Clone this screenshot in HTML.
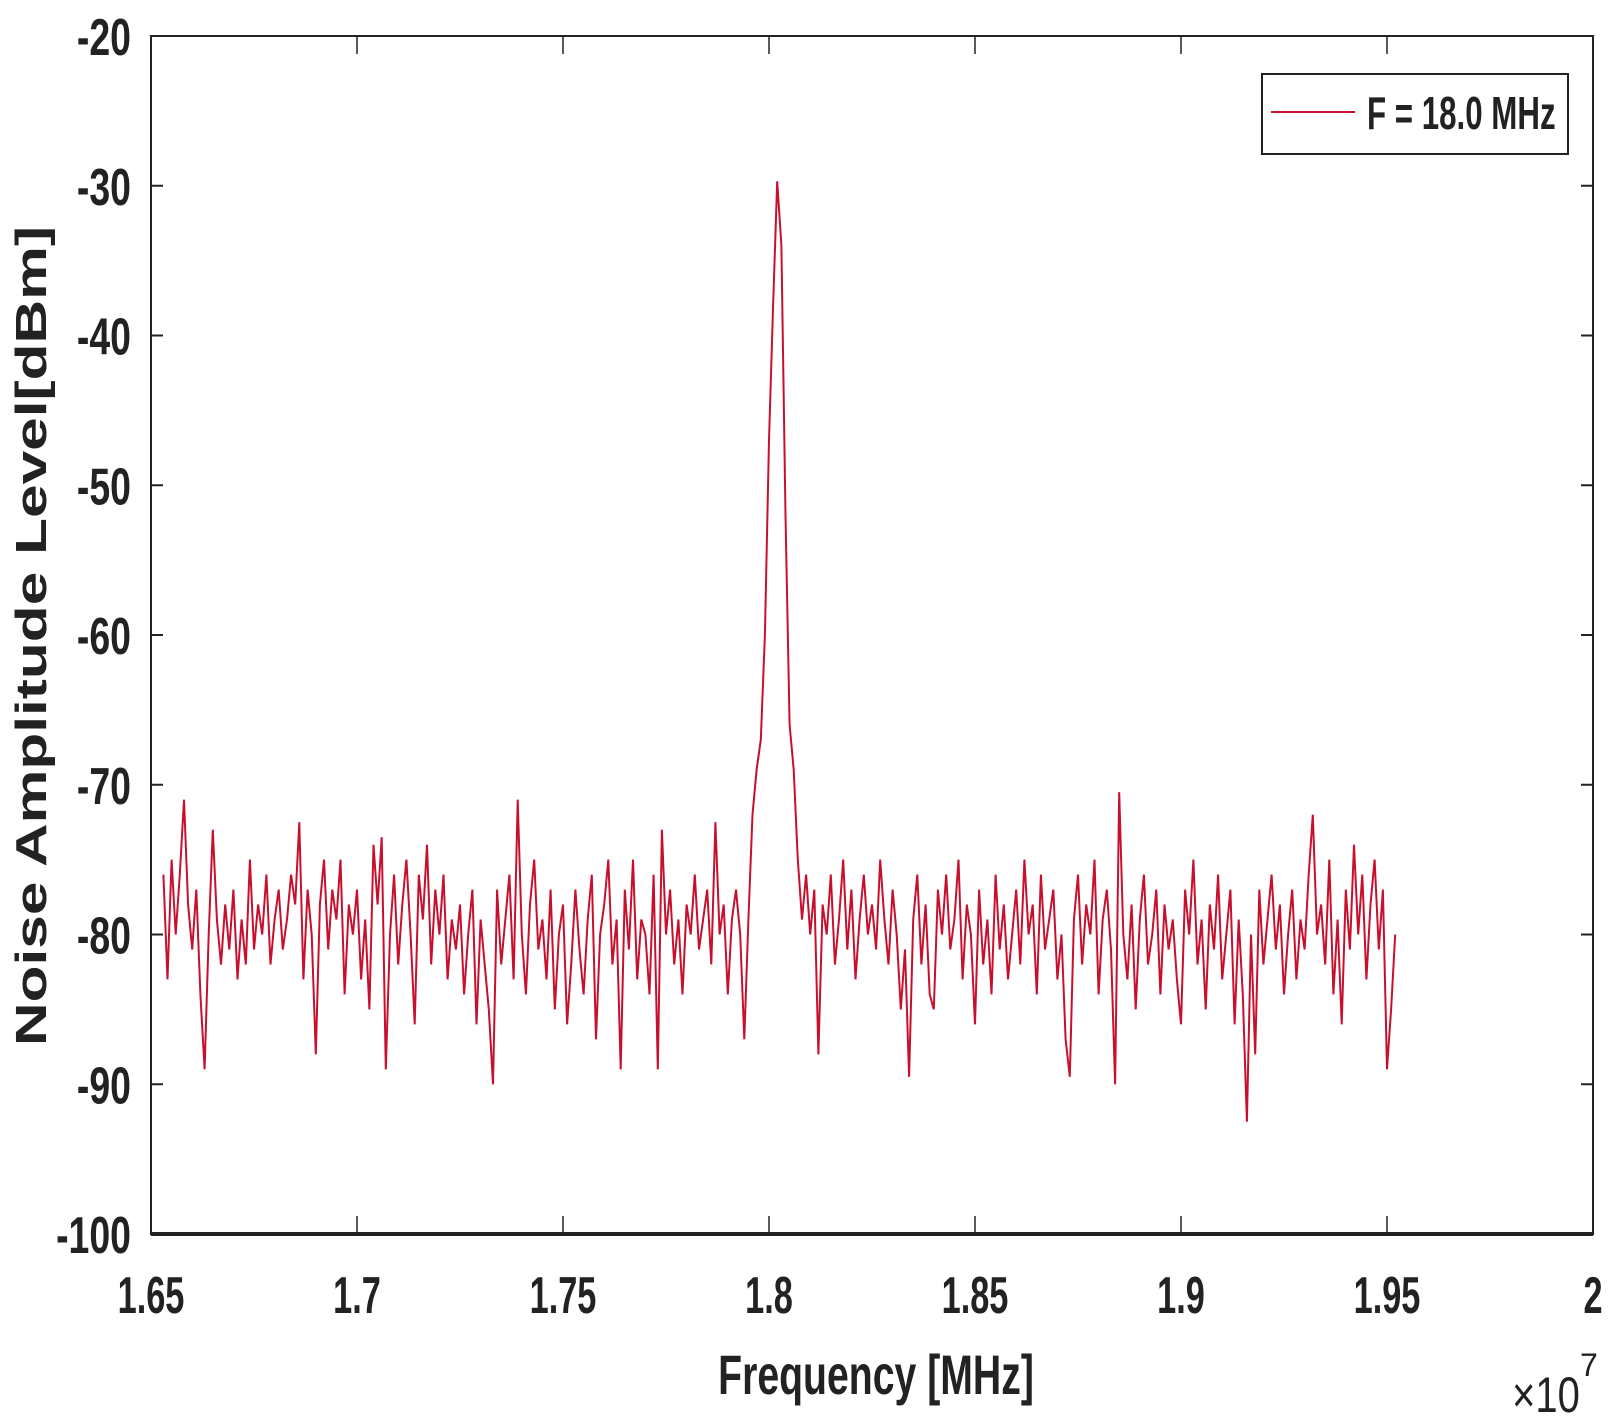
<!DOCTYPE html>
<html><head><meta charset="utf-8"><style>
html,body{margin:0;padding:0;background:#fff}
svg text{font-family:"Liberation Sans",sans-serif;fill:#222}
</style></head><body>
<svg id="chart" width="1621" height="1422" xmlns="http://www.w3.org/2000/svg">
<rect width="1621" height="1422" fill="#fff"/>
<g id="marks"></g>
<g id="axes"></g>
</svg>
<script>
const xStart = 1.653;
const xStep = 0.001;
const noiseValues = [
-76,-83,-75,-80,-76,-71,-78,-81,-77,-84,
-89,-80,-73,-79,-82,-78,-81,-77,-83,-79,
-82,-75,-81,-78,-80,-76,-82,-79,-77,-81,
-79,-76,-78,-72.5,-83,-77,-80,-88,-78,-75,
-81,-77,-79,-75,-84,-78,-80,-77,-83,-79,
-85,-74,-78,-73.5,-89,-80,-76,-82,-78,-75,
-80,-86,-76,-79,-74,-82,-77,-80,-76,-83,
-79,-81,-78,-84,-80,-77,-86,-79,-82,-85,
-90,-77,-82,-79,-76,-83,-71,-80,-84,-78,
-75,-81,-79,-83,-77,-85,-80,-78,-86,-82,
-77,-81,-84,-79,-76,-87,-80,-78,-75,-82,
-79,-89,-77,-81,-75,-83,-79,-80,-84,-76,
-89,-73,-80,-77,-82,-79,-84,-78,-80,-76,
-81,-79,-77,-82,-72.5,-80,-78,-84,-79,-77,
-80,-87,-79,-72,-69,-67,-60,-47,-38,-29.7,
-34,-52,-66,-69,-75,-79,-76,-80,-77,-88,
-78,-80,-76,-82,-79,-75,-81,-77,-83,-79,
-76,-80,-78,-81,-75,-79,-82,-77,-80,-85,
-81,-89.5,-79,-76,-82,-78,-84,-85,-77,-80,
-76,-81,-79,-75,-83,-78,-80,-86,-77,-82,
-79,-84,-76,-81,-78,-83,-80,-77,-82,-75,
-80,-78,-84,-76,-81,-79,-77,-83,-80,-87,
-89.5,-79,-76,-82,-78,-80,-75,-84,-79,-77,
-81,-90,-70.5,-80,-83,-78,-85,-79,-76,-82,
-80,-77,-84,-78,-81,-79,-83,-86,-77,-80,
-75,-82,-79,-85,-78,-81,-76,-83,-80,-77,
-86,-79,-84,-92.5,-80,-88,-77,-82,-79,-76,
-81,-78,-84,-80,-77,-83,-79,-81,-76,-72,
-80,-78,-82,-75,-84,-79,-86,-77,-81,-74,
-80,-76,-83,-78,-75,-81,-77,-89,-85,-80
];
const xTicks = [1.65,1.7,1.75,1.8,1.85,1.9,1.95,2];
const xTickLabels = ["1.65","1.7","1.75","1.8","1.85","1.9","1.95","2"];
const yTicks = [-20,-30,-40,-50,-60,-70,-80,-90,-100];
const yTickLabels = ["-20","-30","-40","-50","-60","-70","-80","-90","-100"];

const L=151,R=1593,T=36,B=1234;
const xs = v => L + (v-1.65)/(2-1.65)*(R-L);
const ys = v => T + (-20-v)/80*(B-T);
const NS="http://www.w3.org/2000/svg";
function mk(tag,attrs,parent,text){const e=document.createElementNS(NS,tag);for(const k in attrs)e.setAttribute(k,attrs[k]);if(text!==undefined)e.textContent=text;parent.appendChild(e);return e;}
const marks=document.getElementById('marks'), axes=document.getElementById('axes');

let d='';
noiseValues.forEach((v,i)=>{const x=xs(xStart+i*xStep),y=ys(v);d+=(i?'L':'M')+x.toFixed(1)+','+y.toFixed(1);});
const line=mk('path',{d:d,fill:'none',stroke:'#c8102e','stroke-width':2,'stroke-linejoin':'miter'},marks);



const box=mk('rect',{x:L,y:T,width:R-L,height:B-T,fill:'none',stroke:'#222','stroke-width':2},axes);


mk('line',{x1:L,y1:B,x2:R,y2:B,stroke:'#222','stroke-width':4},axes);

xTicks.forEach((t,i)=>{
  const x=xs(t);
  mk('line',{x1:x,y1:B,x2:x,y2:B-18,stroke:'#222','stroke-width':1.5},axes);
  mk('line',{x1:x,y1:T,x2:x,y2:T+18,stroke:'#222','stroke-width':1.5},axes);
  const tx=mk('text',{x:0,y:0,'font-size':52,'font-weight':'bold','text-anchor':'middle',transform:`translate(${x},1313) scale(0.66,1)`},axes,xTickLabels[i]);
  
  
});
yTicks.forEach((t,i)=>{
  const y=ys(t);
  mk('line',{x1:L,y1:y,x2:L+12,y2:y,stroke:'#222','stroke-width':2},axes);
  mk('line',{x1:R,y1:y,x2:R-12,y2:y,stroke:'#222','stroke-width':2},axes);
  const tx=mk('text',{x:0,y:0,'font-size':52,'font-weight':'bold','text-anchor':'end',transform:`translate(131,${y+19}) scale(0.72,1)`},axes,yTickLabels[i]);
  
  
});

const xl=mk('text',{x:0,y:0,'font-size':56,'font-weight':'bold','text-anchor':'middle',transform:'translate(876,1394) scale(0.7,1)'},axes,'Frequency [MHz]');


const ex=mk('text',{x:0,y:0,'font-size':50,'text-anchor':'start',transform:'translate(1512,1412) scale(0.8,1)'},axes,'×10');


mk('text',{x:1580,y:1376,'font-size':32},axes,'7');

const yl=mk('text',{x:0,y:0,'font-size':44,'font-weight':'bold','text-anchor':'middle',textLength:820,lengthAdjust:'spacingAndGlyphs',transform:'translate(46,636) rotate(-90)'},axes,'Noise Amplitude Level[dBm]');



const lg=mk('g',{},axes);


mk('rect',{x:1262,y:74,width:306,height:80,fill:'#fff',stroke:'#222','stroke-width':2},lg);
mk('line',{x1:1271,y1:112,x2:1355,y2:112,stroke:'#c8102e','stroke-width':2},lg);
const lt=mk('text',{x:0,y:0,'font-size':46,'font-weight':'bold',transform:'translate(1367,129) scale(0.68,1)'},lg,'F = 18.0 MHz');


</script>
</body></html>
